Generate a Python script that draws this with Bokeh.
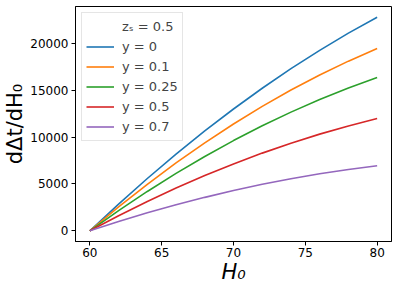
from bokeh.plotting import figure
from bokeh.models import Range1d, FixedTicker, Legend, LegendItem
from bokeh.embed import file_html
from bokeh.resources import INLINE

H0 = [60, 62, 64, 66, 68, 70, 72, 74, 76, 78, 80]
y_0 = [0, 2856, 5584, 8184, 10656, 13000, 15216, 17304, 19264, 21096, 22800]
y_01 = [0, 2548, 4962, 7242, 9388, 11400, 13278, 15022, 16632, 18108, 19450]
y_025 = [0, 2159, 4201, 6127, 7937, 9630, 11207, 12667, 14011, 15239, 16350]
y_05 = [0, 1612, 3132, 4560, 5896, 7140, 8292, 9352, 10320, 11196, 11980]
y_07 = [0, 992, 1918, 2778, 3572, 4300, 4962, 5558, 6088, 6552, 6950]

series = [y_0, y_01, y_025, y_05, y_07]
labels = ["y = 0", "y = 0.1", "y = 0.25", "y = 0.5", "y = 0.7"]
colors = ["#1f77b4", "#ff7f0e", "#2ca02c", "#d62728", "#9467bd"]
legend_title = "zₛ = 0.5"
x_ticks = [60, 65, 70, 75, 80]
y_ticks = [0, 5000, 10000, 15000, 20000]

p = figure(frame_width=316, frame_height=235, output_backend="svg", toolbar_location=None,
           x_range=Range1d(59, 81), y_range=Range1d(-1140, 23940),
           min_border_left=69, min_border_right=5, min_border_top=6, min_border_bottom=30)
p.background_fill_color = "white"
p.border_fill_color = "white"
p.outline_line_color = "black"
p.outline_line_width = 1
p.xgrid.visible = False
p.ygrid.visible = False

for ax in (p.xaxis, p.yaxis):
    ax.axis_line_color = "black"
    ax.major_tick_line_color = "black"
    ax.major_tick_out = 4
    ax.major_tick_in = 0
    ax.minor_tick_line_color = None
    ax.major_label_text_font = "DejaVu Sans"
    ax.major_label_text_font_size = "12px"
    ax.major_label_text_color = "black"
    ax.major_label_standoff = 3
    ax.axis_label_text_font = "DejaVu Sans"
    ax.axis_label_text_font_size = "21px"
    ax.axis_label_text_color = "black"
    ax.axis_label_standoff = 0

p.xaxis.major_label_standoff = 2
p.xaxis.ticker = FixedTicker(ticks=x_ticks)
p.yaxis.ticker = FixedTicker(ticks=y_ticks)
p.xaxis.axis_label = "H₀"
p.xaxis.axis_label_text_font_style = "italic"
p.yaxis.axis_label = "dΔt/dH₀"
p.yaxis.axis_label_text_font_style = "normal"

dummy = p.line([60, 60], [0, 0], line_alpha=0)
items = [LegendItem(label=legend_title, renderers=[dummy])]
for ys, lab, c in zip(series, labels, colors):
    r = p.line(H0, ys, line_color=c, line_width=1.6)
    items.append(LegendItem(label=lab, renderers=[r]))

leg = Legend(items=items, location="top_left")
leg.label_text_font = "DejaVu Sans"
leg.label_text_font_size = "13px"
leg.label_height = 19
leg.glyph_height = 19
leg.glyph_width = 28
leg.spacing = 1
leg.padding = 4
leg.margin = 6
leg.label_standoff = 8
leg.border_line_color = "#cccccc"
leg.border_line_width = 1
leg.background_fill_alpha = 0.8
p.add_layout(leg)

open("out.html", "w").write(file_html(p, INLINE))
